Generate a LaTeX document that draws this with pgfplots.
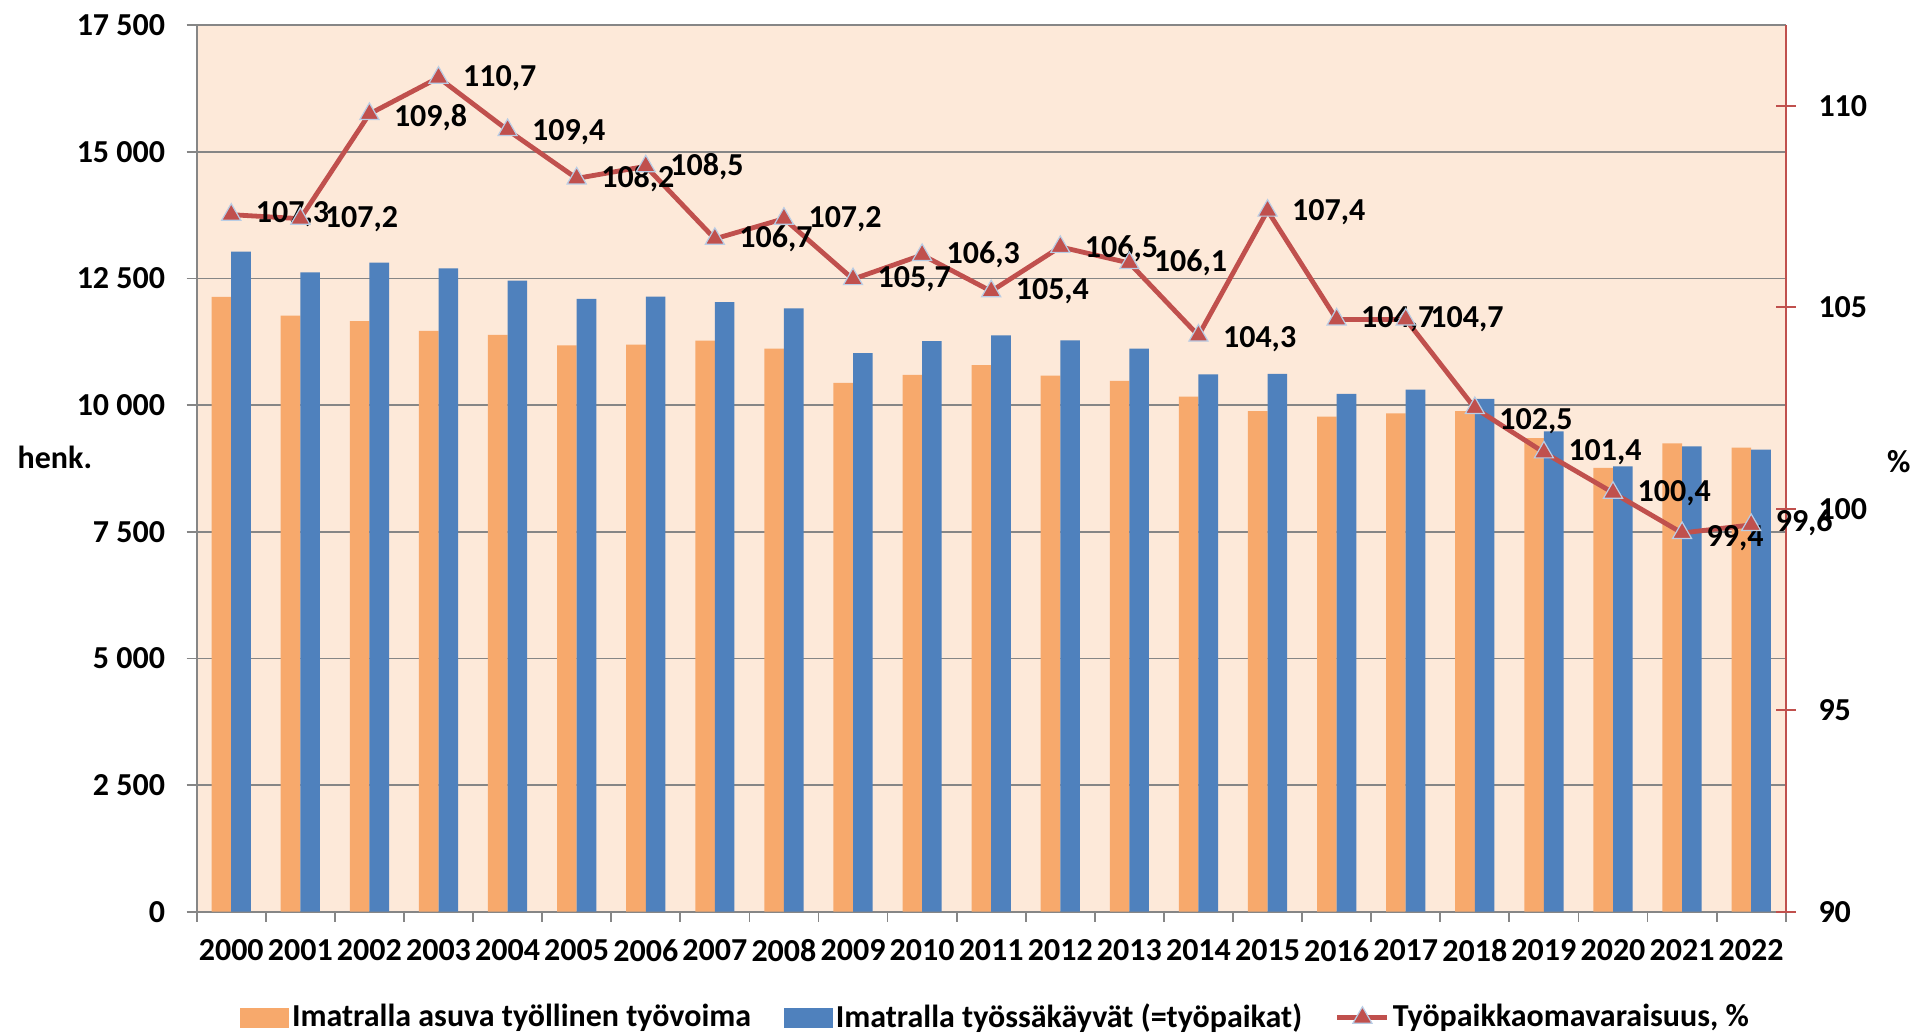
\documentclass[border=0pt]{standalone}
\usepackage{fontspec}
\setmainfont{Carlito}
\usepackage{pgfplots}
\usepackage{pgfplotstable}
\pgfplotsset{compat=1.18}
\definecolor{bgc}{HTML}{FDE9D9}
\definecolor{gridc}{HTML}{868686}
\definecolor{orangec}{HTML}{F7A96C}
\definecolor{bluec}{HTML}{4F81BD}
\definecolor{linec}{HTML}{C0504D}
\definecolor{markedge}{HTML}{B9CDE5}
\newcommand\fnt{\fontsize{16}{19}\selectfont\bfseries}
\pgfplotstableread{
x asuva tyo
0 12136 13030
1 11767 12624
2 11662 12813
3 11465 12703
4 11386 12458
5 11182 12097
6 11194 12145
7 11273 12037
8 11115 11913
9 10438 11030
10 10596 11267
11 10793 11380
12 10582 11281
13 10478 11115
14 10168 10610
15 9885 10616
16 9773 10221
17 9840 10306
18 9885 10125
19 9352 9485
20 8760 8794
21 9248 9188
22 9161 9121
}\bars
\pgfplotstableread{
x y lab dy
0 107.3 107,3 0
1 107.2 107,2 0
2 109.8 109,8 -2
3 110.7 110,7 0
4 109.4 109,4 -1
5 108.2 108,2 0
6 108.5 108,5 0
7 106.7 106,7 0
8 107.2 107,2 0
9 105.7 105,7 0
10 106.3 106,3 0
11 105.4 105,4 0
12 106.5 106,5 -1
13 106.1 106,1 0
14 104.3 104,3 -2
15 107.4 107,4 -1
16 104.7 104,7 0
17 104.7 104,7 0
18 102.5 102,5 -6.5
19 101.4 101,4 0
20 100.4 100,4 0
21 99.4 99,4 -2.5
22 99.6 99,6 1
}\ratio
\begin{document}
\fnt
\begin{tikzpicture}
\useasboundingbox (-98.35pt,-61.65pt) rectangle (859.15pt,455.85pt);
\begin{axis}[
  scale only axis, width=794.5pt, height=443.2pt,
  xmin=-0.5, xmax=22.5, ymin=0, ymax=17500,
  axis background/.style={fill=bgc},
  ybar=0pt, bar width=9.8pt,
  axis x line*=bottom, axis y line*=left,
  axis line style={gridc, line width=0.9pt},
  xtick={0,...,22},
  xticklabels={2000,2001,2002,2003,2004,2005,2006,2007,2008,2009,2010,2011,2012,2013,2014,2015,2016,2017,2018,2019,2020,2021,2022},
  major x tick style={draw=none},
  minor xtick={-0.5,0.5,...,22.5},
  minor x tick style={gridc, line width=0.9pt},
  minor tick length=5pt,
  ytick={0,2500,5000,7500,10000,12500,15000,17500},
  yticklabels={0,{2 500},{5 000},{7 500},{10 000},{12 500},{15 000},{17 500}},
  ytick style={gridc, line width=0.9pt},
  major tick length=5pt,
  tick align=outside,
  ymajorgrids, grid style={gridc, line width=0.9pt},
  xticklabel style={font=\fnt, anchor=north, inner sep=0pt, yshift=-8.6pt},
  yticklabel style={font=\fnt, anchor=east, inner sep=0pt, xshift=-10.6pt},
]
\addplot[fill=orangec, draw=none] table[x=x, y=asuva] {\bars};
\addplot[fill=bluec, draw=none] table[x=x, y=tyo] {\bars};
\end{axis}
\begin{axis}[
  scale only axis, width=794.5pt, height=443.2pt,
  xmin=-0.5, xmax=22.5, ymin=90, ymax=112,
  axis x line=none, axis y line*=right,
  y axis line style={linec, line width=1pt},
  ytick={90,95,100,105,110},
  yticklabels={90,95,100,105,110},
  ytick style={linec, line width=1pt},
  tick align=center, major tick length=10pt,
  yticklabel style={font=\fnt, anchor=west, inner sep=0pt, xshift=11.2pt},
  clip=false,
  legend columns=3,
  legend style={at={(0.503,-0.1196)}, anchor=center, draw=none, fill=none,
    font=\fnt, nodes={inner sep=1.5pt},
    /tikz/every even column/.append style={column sep=15pt}},
]
\addlegendimage{legend image code/.code={\fill[orangec] (0pt,-4.75pt) rectangle (24pt,4.75pt);}}
\addlegendentry{Imatralla asuva työllinen työvoima}
\addlegendimage{legend image code/.code={\fill[bluec] (0pt,-4.75pt) rectangle (24pt,4.75pt);}}
\addlegendentry{Imatralla työssäkäyvät (=työpaikat)}
\addlegendimage{legend image code/.code={
  \draw[linec, line width=2.4pt] (0pt,0pt) -- (25pt,0pt);
  \draw[fill=linec, draw=markedge, line width=0.6pt] plot[mark=triangle*, mark size=5.5pt] coordinates {(12.5pt,0pt)};}}
\addlegendentry{Työpaikkaomavaraisuus, \%}
\addplot[linec, line width=2.4pt, mark=triangle*, mark size=5.5pt,
  mark options={fill=linec, draw=markedge, line width=0.6pt},
  point meta=explicit symbolic,
  visualization depends on={\thisrow{dy} \as \labdy},
  nodes near coords={\pgfplotspointmeta},
  every node near coord/.append style={anchor=west, inner sep=0pt, xshift=12pt, yshift=\labdy pt, font=\fnt, text=black},
  forget plot] table[x=x, y=y, meta=lab] {\ratio};
\node[anchor=base west, inner sep=0pt, font=\fnt] at (rel axis cs:0,0.5) [xshift=-89.7pt] {henk.};
\node[anchor=base west, inner sep=0pt, font=\fnt] at (rel axis cs:1,0.496) [xshift=50.5pt] {\%};
\end{axis}
\end{tikzpicture}
\end{document}
